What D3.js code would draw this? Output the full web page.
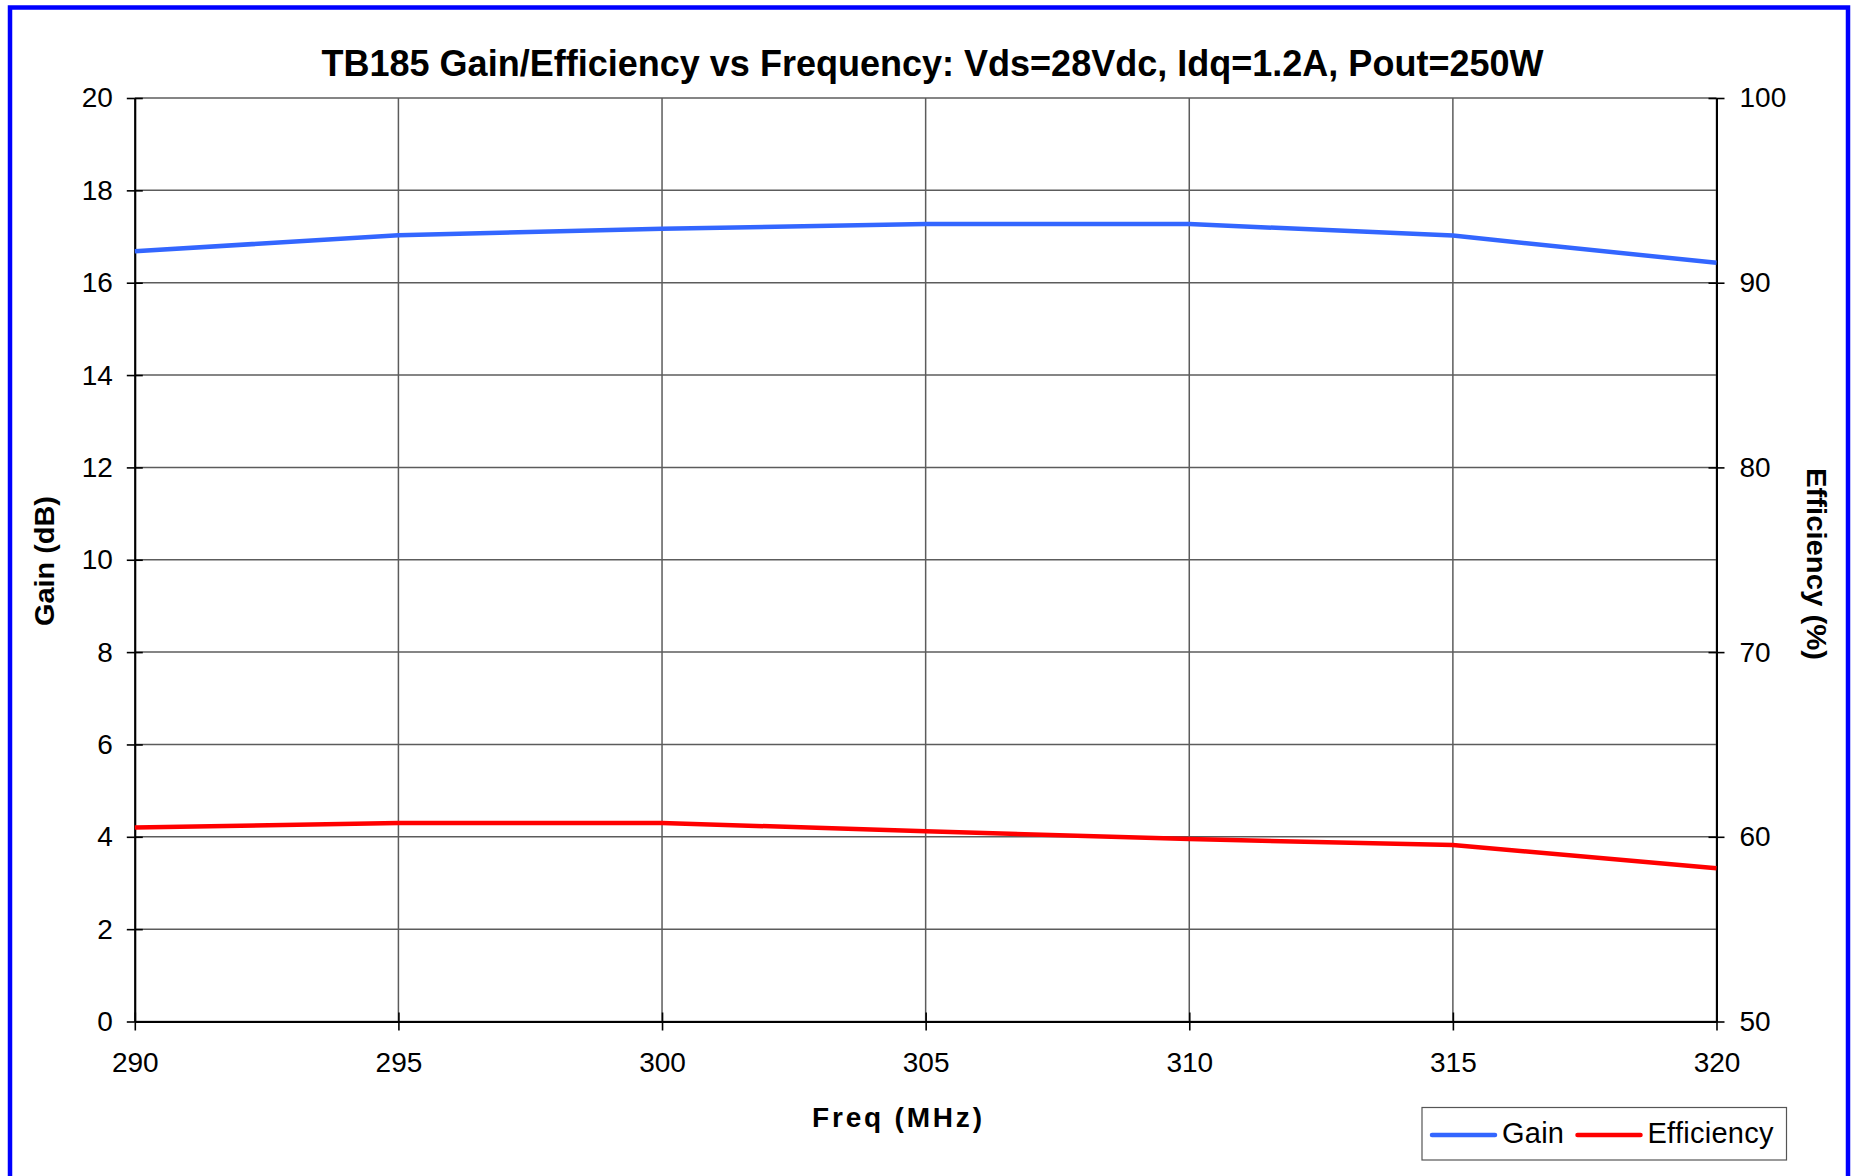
<!DOCTYPE html>
<html lang="en">
  <head>
    <meta charset="UTF-8" />
    <title>TB185 Gain/Efficiency vs Frequency</title>
    <style>
      body { margin: 0; background: #fff; }
      text { font-family: "Liberation Sans", Arial, sans-serif; fill: #000; }
    </style>
  </head>
  <body>
    <svg id="chart" width="1852" height="1176"></svg>
    <script src="https://d3js.org/d3.v7.min.js"></script>
    <script>
      // values
      const freqs = [290, 295, 300, 305, 310, 315, 320];
      const gain = [16.68, 17.03, 17.17, 17.27, 17.27, 17.02, 16.43];
      const efficiency = [60.5, 60.75, 60.75, 60.3, 59.88, 59.55, 58.3];
      const gainTicks = [0, 2, 4, 6, 8, 10, 12, 14, 16, 18, 20];
      const effTicks = [50, 60, 70, 80, 90, 100];
      const freqTicks = [290, 295, 300, 305, 310, 315, 320];

      const svg = d3.select("#chart");
      const plotL = 134.8, plotR = 1716.5, plotT = 98, plotB = 1021.5;

      const x = d3.scaleLinear().domain([290, 320]).range([plotL, plotR]);
      const yG = d3.scaleLinear().domain([0, 20]).range([plotB, plotT]);
      const yE = d3.scaleLinear().domain([50, 100]).range([plotB, plotT]);

      svg.append("rect").attr("width", 1852).attr("height", 1176).attr("fill", "#fff");
      // blue frame
      svg.append("rect")
        .attr("x", 10).attr("y", 7.5).attr("width", 1838).attr("height", 1200)
        .attr("fill", "none").attr("stroke", "#0000ff").attr("stroke-width", 4.5);

      // grid
      svg.append("g")
        .selectAll("line")
        .data(gainTicks)
        .enter()
        .append("line")
        .attr("x1", plotL).attr("x2", plotR)
        .attr("y1", (d) => yG(d)).attr("y2", (d) => yG(d))
        .attr("stroke", "#5c5c5c").attr("stroke-width", 1.5);
      svg.append("g")
        .selectAll("line")
        .data(freqTicks)
        .enter()
        .append("line")
        .attr("x1", (d) => x(d)).attr("x2", (d) => x(d))
        .attr("y1", plotT).attr("y2", plotB)
        .attr("stroke", "#5c5c5c").attr("stroke-width", 1.5);

      // axes
      const axL = svg.append("g").attr("transform", `translate(${plotL},0)`)
        .call(d3.axisLeft(yG).tickValues(gainTicks).tickSizeInner(8).tickSizeOuter(0).tickPadding(14));
      const axR = svg.append("g").attr("transform", `translate(${plotR},0)`)
        .call(d3.axisRight(yE).tickValues(effTicks).tickSizeInner(8).tickSizeOuter(0).tickPadding(15));
      const axB = svg.append("g").attr("transform", `translate(0,${plotB})`)
        .call(d3.axisBottom(x).tickValues(freqTicks).tickSizeInner(9).tickSizeOuter(0).tickPadding(22));
      [axL, axR, axB].forEach((a) => {
        a.select(".domain").attr("stroke", "#000").attr("stroke-width", 2);
        a.selectAll(".tick line").attr("stroke", "#000").attr("stroke-width", 1.6);
        a.selectAll("text").style("font-size", "28px").attr("fill", "#000")
          .style("font-family", '"Liberation Sans", Arial, sans-serif');
      });
      axL.selectAll(".tick").append("line").attr("x2", 8).attr("stroke", "#000").attr("stroke-width", 1.6);
      axR.selectAll(".tick").append("line").attr("x2", -8).attr("stroke", "#000").attr("stroke-width", 1.6);
      axB.selectAll(".tick").append("line").attr("y2", -9).attr("stroke", "#000").attr("stroke-width", 1.6);

      // series
      const lineG = d3.line().x((d, i) => x(freqs[i])).y((d) => yG(d));
      const lineE = d3.line().x((d, i) => x(freqs[i])).y((d) => yE(d));
      svg.append("path").datum(gain).attr("d", lineG)
        .attr("fill", "none").attr("stroke", "#3366ff").attr("stroke-width", 4.5);
      svg.append("path").datum(efficiency).attr("d", lineE)
        .attr("fill", "none").attr("stroke", "#ff0000").attr("stroke-width", 4.5);

      // titles
      svg.append("text").attr("x", 932.5).attr("y", 76)
        .attr("text-anchor", "middle").style("font-size", "36px").style("font-weight", "bold")
        .attr("textLength", 1222).attr("lengthAdjust", "spacingAndGlyphs")
        .text("TB185 Gain/Efficiency vs Frequency: Vds=28Vdc, Idq=1.2A, Pout=250W");
      svg.append("text").attr("x", 897).attr("y", 1127)
        .attr("text-anchor", "middle").style("font-size", "28px").style("font-weight", "bold")
        .attr("textLength", 170).attr("lengthAdjust", "spacing")
        .text("Freq (MHz)");
      svg.append("text").attr("transform", "translate(54,561) rotate(-90)")
        .attr("text-anchor", "middle").style("font-size", "27px").style("font-weight", "bold")
        .attr("textLength", 130).attr("lengthAdjust", "spacingAndGlyphs")
        .text("Gain (dB)");
      svg.append("text").attr("transform", "translate(1807,564) rotate(90)")
        .attr("text-anchor", "middle").style("font-size", "28px").style("font-weight", "bold")
        .attr("textLength", 192).attr("lengthAdjust", "spacingAndGlyphs")
        .text("Efficiency (%)");

      // legend
      const legend = svg.append("g");
      legend.append("rect")
        .attr("x", 1422).attr("y", 1107.5).attr("width", 364.5).attr("height", 52.5)
        .attr("fill", "#fff").attr("stroke", "#555").attr("stroke-width", 1.2);
      const items = [
        { name: "Gain", color: "#3366ff", x0: 1432, tx: 1502, w: 62 },
        { name: "Efficiency", color: "#ff0000", x0: 1577.5, tx: 1647.5, w: 126 },
      ];
      legend.selectAll("line")
        .data(items)
        .enter()
        .append("line")
        .attr("x1", (d) => d.x0).attr("x2", (d) => d.x0 + 63)
        .attr("y1", 1135).attr("y2", 1135)
        .attr("stroke", (d) => d.color).attr("stroke-width", 4.5).attr("stroke-linecap", "round");
      legend.selectAll("text")
        .data(items)
        .enter()
        .append("text")
        .attr("x", (d) => d.tx).attr("y", 1143)
        .style("font-size", "29px")
        .attr("textLength", (d) => d.w).attr("lengthAdjust", "spacing")
        .text((d) => d.name);
    </script>
  </body>
</html>
